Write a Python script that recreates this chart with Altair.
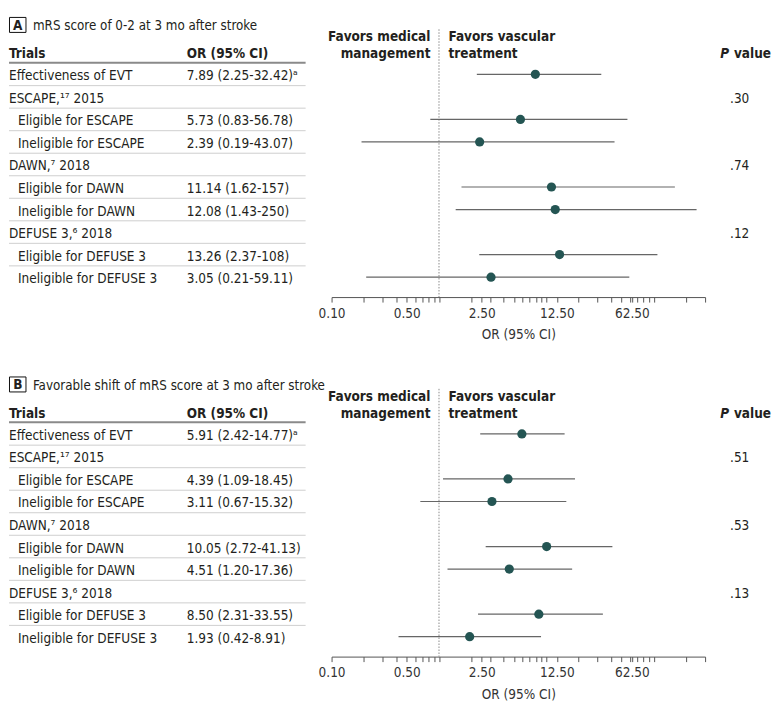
import altair as alt
import pandas as pd

# ---------------- data ----------------
row_labels = ["Effectiveness of EVT", "ESCAPE,\u00b9\u2077 2015", "Eligible for ESCAPE", "Ineligible for ESCAPE",
              "DAWN,\u2077 2018", "Eligible for DAWN", "Ineligible for DAWN",
              "DEFUSE 3,\u2076 2018", "Eligible for DEFUSE 3", "Ineligible for DEFUSE 3"]
row_indent = [0, 0, 1, 1, 0, 1, 1, 0, 1, 1]

or_text_A = ["7.89 (2.25-32.42)\u1d43", "", "5.73 (0.83-56.78)", "2.39 (0.19-43.07)", "",
             "11.14 (1.62-157)", "12.08 (1.43-250)", "", "13.26 (2.37-108)", "3.05 (0.21-59.11)"]
est_A = [7.89, None, 5.73, 2.39, None, 11.14, 12.08, None, 13.26, 3.05]
lo_A = [2.25, None, 0.83, 0.19, None, 1.62, 1.43, None, 2.37, 0.21]
hi_A = [32.42, None, 56.78, 43.07, None, 157, 250, None, 108, 59.11]
p_A = [".30", ".74", ".12"]

or_text_B = ["5.91 (2.42-14.77)\u1d43", "", "4.39 (1.09-18.45)", "3.11 (0.67-15.32)", "",
             "10.05 (2.72-41.13)", "4.51 (1.20-17.36)", "", "8.50 (2.31-33.55)", "1.93 (0.42-8.91)"]
est_B = [5.91, None, 4.39, 3.11, None, 10.05, 4.51, None, 8.50, 1.93]
lo_B = [2.42, None, 1.09, 0.67, None, 2.72, 1.20, None, 2.31, 0.42]
hi_B = [14.77, None, 18.45, 15.32, None, 41.13, 17.36, None, 33.55, 8.91]
p_B = [".51", ".53", ".13"]

p_rows = [1, 4, 7]

tick_values = sorted(set([round(m * d, 6) for d in [0.1, 1, 10] for m in range(1, 10)]
                         + [100, 200, 300, 2.5, 12.5, 62.5]))
tick_labels = [0.1, 0.5, 2.5, 12.5, 62.5]

# ---------------- style ----------------
FONT = "'Liberation Sans Narrow', 'DejaVu Sans Condensed', Roboto, sans-serif"
TXT = "#231f20"
DOT = "#245553"
LINE = "#666666"
FS = 13.5
DY = 2
H = 289
W = 764
Y_TOP, Y_BOT = -2.9255, 9.885

YS = alt.Scale(domain=[Y_TOP, Y_BOT], range=[0, H])
XS = alt.Scale(type="log", domain=[0.1, 300], range=[323, 697])
XAX = alt.Axis(
    values=tick_values,
    labelExpr="indexof([" + ", ".join(str(v) for v in tick_labels) + "], datum.value) >= 0 ? format(datum.value, '.2f') : ''",
    labelOverlap=False, labelFlush=False, grid=False,
    tickSize=5, tickColor="#555", domainColor="#555", tickWidth=1, domainWidth=1,
    labelFont=FONT, labelFontSize=13.5, labelColor="#333", labelPadding=4,
    title="OR (95% CI)", titleFont=FONT, titleFontSize=13.5, titleFontWeight="normal",
    titleColor="#333", titlePadding=8,
)

one = pd.DataFrame({"k": [0]})


def yd(v):
    return alt.YDatum(v, scale=YS, axis=None)


def y2d(v):
    return alt.Y2Datum(v)


def txt(text, x, y, align="left", weight="normal", size=FS, style="normal"):
    return alt.Chart(one).mark_text(
        align=align, baseline="middle", font=FONT, fontSize=size, fontWeight=weight,
        fontStyle=style, color=TXT, dy=DY
    ).encode(x=alt.value(x), y=yd(y), text=alt.value(text))


def panel(letter, title, or_text, est, lo, hi, pvals):
    df = pd.DataFrame({
        "row": list(range(len(row_labels))),
        "label": row_labels,
        "indent": row_indent,
        "ortext": or_text,
        "est": est, "lo": lo, "hi": hi,
    })
    pdf = pd.DataFrame({"row": p_rows, "p": pvals})
    sep = pd.DataFrame({"row": [r + 0.5 for r in range(len(row_labels) - 1)]})

    box = alt.Chart(one).mark_rect(fill="white", stroke="#111", strokeWidth=1).encode(
        x=alt.value(0.5), x2=alt.value(17), y=yd(-2.527), y2=y2d(-1.862))
    letter_t = txt(letter, 8.75, -2.25, align="center", weight="bold", size=13.5)
    title_t = txt(title, 24, -2.216, size=13.3)

    head1 = txt("Trials", 0, -0.98, weight="bold")
    head2 = txt("OR (95% CI)", 178, -0.98, weight="bold")
    fav1a = txt("Favors medical", 422, -1.729, align="right", weight="bold")
    fav1b = txt("management", 422, -0.98, align="right", weight="bold")
    fav2a = txt("Favors vascular", 440, -1.729, weight="bold")
    fav2b = txt("treatment", 440, -0.98, weight="bold")
    ph1 = txt("P", 721, -0.98, align="right", weight="bold", style="italic")
    ph2 = txt("value", 763, -0.98, align="right", weight="bold")

    hline = alt.Chart(one).mark_rule(color="#8a8a8a", strokeWidth=2).encode(
        x=alt.value(0), x2=alt.value(297), y=yd(-0.52))
    seps = alt.Chart(sep).mark_rule(color="#cfcfcf", strokeWidth=1).encode(
        x=alt.value(0), x2=alt.value(297), y=alt.Y("row:Q", scale=YS, axis=None))

    tstyle = dict(align="left", baseline="middle", font=FONT, fontSize=FS, color=TXT, dy=DY)
    lab0 = alt.Chart(df).transform_filter("datum.indent == 0").mark_text(**tstyle).encode(
        x=alt.value(0), y=alt.Y("row:Q", scale=YS, axis=None), text="label:N")
    lab1 = alt.Chart(df).transform_filter("datum.indent == 1").mark_text(**tstyle).encode(
        x=alt.value(9), y=alt.Y("row:Q", scale=YS, axis=None), text="label:N")
    ort = alt.Chart(df).mark_text(**tstyle).encode(
        x=alt.value(178), y=alt.Y("row:Q", scale=YS, axis=None), text="ortext:N")
    pt = alt.Chart(pdf).mark_text(**tstyle).encode(
        x=alt.value(722), y=alt.Y("row:Q", scale=YS, axis=None), text="p:N")

    ref = alt.Chart(one).mark_rule(color="#8c8c8c", strokeWidth=1, strokeDash=[1.5, 1.5]).encode(
        x=alt.XDatum(1, scale=XS, axis=XAX), y=yd(-2.0), y2=y2d(Y_BOT))

    ci = alt.Chart(df).transform_filter("isValid(datum.est)").mark_rule(
        color=LINE, strokeWidth=1.2).encode(
        x=alt.X("lo:Q", scale=XS, axis=XAX), x2="hi:Q",
        y=alt.Y("row:Q", scale=YS, axis=None))
    pts = alt.Chart(df).transform_filter("isValid(datum.est)").mark_circle(
        color=DOT, opacity=1, size=85).encode(
        x=alt.X("est:Q", scale=XS, axis=XAX),
        y=alt.Y("row:Q", scale=YS, axis=None))

    return alt.layer(
        seps, hline, box, letter_t, title_t, head1, head2, fav1a, fav1b, fav2a, fav2b,
        ph1, ph2, lab0, lab1, ort, pt, ref, ci, pts
    ).properties(width=W, height=H)


pA = panel("A", "mRS score of 0-2 at 3 mo after stroke", or_text_A, est_A, lo_A, hi_A, p_A)
pB = panel("B", "Favorable shift of mRS score at 3 mo after stroke", or_text_B, est_B, lo_B, hi_B, p_B)

chart = alt.vconcat(pA, pB, spacing=27).properties(
    padding={"left": 0, "top": 0, "right": 0, "bottom": 0}
).configure_view(strokeOpacity=0)

chart.save("out.html", embed_options={"renderer": "svg", "actions": False})
